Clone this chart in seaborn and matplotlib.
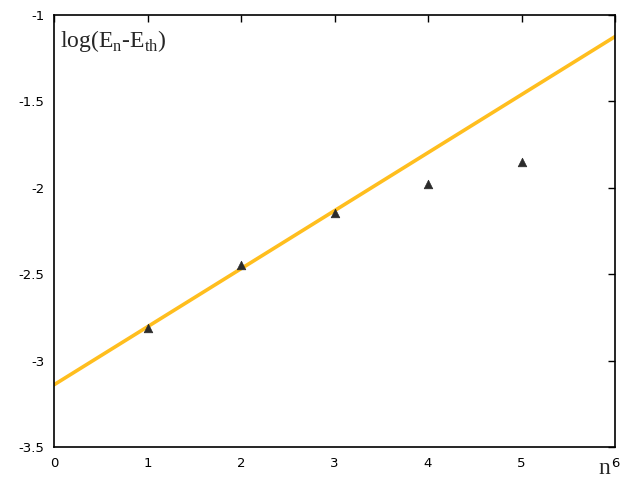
import matplotlib
matplotlib.use("Agg")
import matplotlib.pyplot as plt
import pandas as pd
import seaborn as sns

# measured points
n_values = [1, 2, 3, 4, 5]
log_diff = [-2.81, -2.445, -2.146, -1.978, -1.852]

# linear fit line, endpoints read at n=0 and n=6
fit_n = [0, 6]
fit_log = [-3.14, -1.125]

x_ticks = [0, 1, 2, 3, 4, 5, 6]
y_ticks = [-3.5, -3, -2.5, -2, -1.5, -1]


def main():
    sns.set_style("white")
    plt.rcParams["font.family"] = ["DejaVu Sans"]
    plt.rcParams["mathtext.fontset"] = "custom"
    plt.rcParams["mathtext.rm"] = "Liberation Serif"

    points = pd.DataFrame({"n": n_values, "log": log_diff})
    fit = pd.DataFrame({"n": fit_n, "log": fit_log})

    fig = plt.figure(figsize=(6.4, 4.8), dpi=100)
    ax = fig.add_axes([54 / 640, 33 / 480, 561 / 640, 432 / 480])

    sns.lineplot(data=fit, x="n", y="log", ax=ax, color="#ffbe1e", linewidth=2.6)
    sns.scatterplot(data=points, x="n", y="log", ax=ax, marker="^", s=38,
                    color="#2b2b2b", edgecolor="#2b2b2b", linewidth=0.5, zorder=3)

    ax.set_xlim(0, 6)
    ax.set_ylim(-3.5, -1)
    ax.set_xticks(x_ticks)
    ax.set_yticks(y_ticks)
    ax.set_xticklabels([str(t) for t in x_ticks])
    ax.set_yticklabels(["-3.5", "-3", "-2.5", "-2", "-1.5", "-1"])
    ax.set_xlabel("")
    ax.set_ylabel("")
    ax.tick_params(direction="in", length=5, width=1, top=True, right=True,
                   labelsize=9.5, colors="black", pad=7)
    for side in ax.spines.values():
        side.set_color("black")
        side.set_linewidth(1.2)

    ax.text(0.01, 0.97, r"log(E$_\mathrm{n}$-E$_\mathrm{th}$)", transform=ax.transAxes,
            family=["Liberation Serif"], fontsize=17, va="top", ha="left")
    fig.text(604 / 640, 1 - 469 / 480, "n", family=["Liberation Serif"],
             fontsize=17, ha="center", va="center")

    fig.savefig("out.png", dpi=100)
    plt.close(fig)


if __name__ == "__main__":
    main()
